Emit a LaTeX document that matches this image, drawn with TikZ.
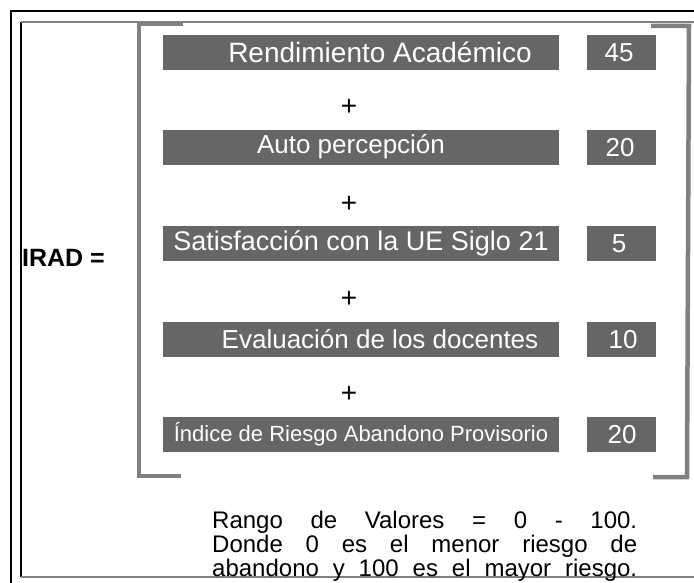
\documentclass[tikz,border=0pt]{standalone}
\usepackage{fontspec}
\setmainfont{Liberation Sans}
\definecolor{boxgray}{HTML}{666666}
\definecolor{brgray}{HTML}{808080}
\begin{document}
\begin{tikzpicture}[x=1pt,y=-1pt,
  bar/.style={fill=boxgray,draw=none,inner sep=0pt,anchor=north west},
  btxt/.style={text=white,inner sep=0pt,font=\fontsize{26}{28}\selectfont},
  ntxt/.style={text=white,inner sep=0pt,font=\fontsize{26}{28}\selectfont},
  plus/.style={inner sep=0pt,font=\fontsize{28}{28}\selectfont},
  brk/.style={draw=brgray,line width=4.5pt},
  note/.style={inner sep=0pt,anchor=west,font=\fontsize{24}{24}\selectfont}]
\useasboundingbox (0,0) rectangle (694,583);
\fill[white] (0,0) rectangle (694,583);
% frames
\draw[black,line width=1.2pt] (11,583) -- (11,11) -- (694,11);
\draw[black,line width=1.2pt] (21,22) -- (21,577);
\draw[brgray,line width=2pt] (21,22) -- (694,22);
\draw[brgray,line width=2pt] (21,577) -- (694,577);
% brackets
\coordinate (lt) at (183,24); \coordinate (ltc) at (139,24);
\coordinate (lbc) at (139,476); \coordinate (lb) at (181,476);
\draw[brk] (lt) -- (ltc) -- (lbc) -- (lb);
\coordinate (rt) at (651,26); \coordinate (rtc) at (689,26);
\coordinate (rbc) at (687,477); \coordinate (rb) at (653,477);
\draw[brk] (rt) -- (rtc) -- (rbc) -- (rb);
% IRAD
\node[inner sep=0pt,anchor=west,font=\bfseries\fontsize{25}{28}\selectfont] (irad) at (22,258) {IRAD =};
% boxes
\node[bar,minimum width=396pt,minimum height=35pt] (b1) at (163,35) {};
\node[bar,minimum width=69pt,minimum height=35pt] (n1) at (587,35) {};
\node[bar,minimum width=396pt,minimum height=35pt] (b2) at (163,130) {};
\node[bar,minimum width=69pt,minimum height=35pt] (n2) at (587,130) {};
\node[bar,minimum width=396pt,minimum height=35pt] (b3) at (163,226) {};
\node[bar,minimum width=69pt,minimum height=35pt] (n3) at (587,226) {};
\node[bar,minimum width=396pt,minimum height=35pt] (b4) at (163,322) {};
\node[bar,minimum width=69pt,minimum height=35pt] (n4) at (587,322) {};
\node[bar,minimum width=396pt,minimum height=35pt] (b5) at (163,417) {};
\node[bar,minimum width=69pt,minimum height=35pt] (n5) at (587,417) {};
% texts
\node[btxt,font=\fontsize{28}{30}\selectfont] (t1) at (380,52) {Rendimiento Académico};
\node[btxt] (t2) at (351,147) {Auto percepción};
\node[btxt,font=\fontsize{27}{30}\selectfont] (t3) at (361,243) {Satisfacción con la UE Siglo 21};
\node[btxt] (t4) at (380,339.5) {Evaluación de los docentes};
\node[btxt,font=\fontsize{22}{24}\selectfont] (t5) at (361,434.5) {Índice de Riesgo Abandono Provisorio};
\node[ntxt] (v1) at (619,52.5) {45};
\node[ntxt] (v2) at (620,147.5) {20};
\node[ntxt] (v3) at (619,243.5) {5};
\node[ntxt] (v4) at (623,339.5) {10};
\node[ntxt] (v5) at (622,434.5) {20};
% plus signs
\node[plus] (p1) at (349,107) {+};
\node[plus] (p2) at (349,204) {+};
\node[plus] (p3) at (349,299) {+};
\node[plus] (p4) at (349,394) {+};
% note
\node[note] (l1) at (212,522) {\hbox to 425pt{Rango\hfill de\hfill Valores\hfill =\hfill 0\hfill -\hfill 100.}};
\node[note] (l2) at (212,546) {\hbox to 425pt{Donde\hfill 0\hfill es\hfill el\hfill menor\hfill riesgo\hfill de}};
\node[note] (l3) at (212,570) {\hbox to 425pt{abandono\hfill y\hfill 100\hfill es\hfill el\hfill mayor\hfill riesgo.}};
\end{tikzpicture}
\end{document}
